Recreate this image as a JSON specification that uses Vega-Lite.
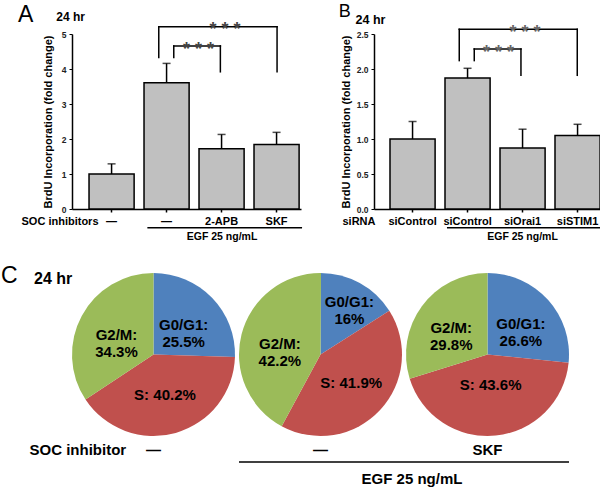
{
  "$schema": "https://vega.github.io/schema/vega-lite/v6.json",
  "padding": {"left": 0, "top": 2, "right": 0, "bottom": 0},
  "config": {
    "font": "Liberation Sans",
    "view": {"stroke": null},
    "axis": {"grid": false, "domainColor": "#000", "domainWidth": 1.5, "tickColor": "#000", "labelColor": "#000", "titleColor": "#000", "labelFontWeight": "bold", "titleFontWeight": "bold", "labelFont": "Liberation Sans", "titleFont": "Liberation Sans", "labelOverlap": false},
    "text": {"font": "Liberation Sans", "color": "#000"}
  },
  "spacing": 21,
  "vconcat": [
    {
      "hconcat": [
        {
          "width": 229, "height": 175,
          "data": {"values": [
            {"group": "None", "mean": 1.00, "upper": 1.29},
            {"group": "EGF", "mean": 3.61, "upper": 4.16},
            {"group": "EGF+2-APB", "mean": 1.72, "upper": 2.13},
            {"group": "EGF+SKF", "mean": 1.84, "upper": 2.19}
          ]},
          "layer": [
            {"mark": {"type": "bar", "fill": "#c0c0c0", "stroke": "#000", "strokeWidth": 1.5},
             "encoding": {
               "x": {"field": "group", "type": "nominal",
                     "scale": {"domain": ["None", "EGF", "EGF+2-APB", "EGF+SKF"], "paddingInner": 0.18, "paddingOuter": 0.172, "align": 0.9},
                     "axis": {"orient": "bottom", "title": "SOC inhibitors", "labelExpr": "indexof(datum.value,'+')>=0 ? substring(datum.value,4) : '—'", "labelAngle": 0, "labelOverlap": false, "tickSize": 3, "tickWidth": 1.5, "labelPadding": 3, "labelFontSize": 11, "titleFontSize": 11, "titleX": -51, "titleY": 12, "titleAlign": "left", "titleBaseline": "middle"}},
               "y": {"field": "mean", "type": "quantitative", "scale": {"domain": [0, 5], "nice": false},
                     "axis": {"title": "BrdU Incorporation (fold change)", "values": [0, 1, 2, 3, 4, 5], "tickCount": 6, "labelOverlap": false, "tickSize": 3, "labelFontSize": 8.5, "labelPadding": 3, "labelColor": "#222", "titleFontSize": 11, "titleX": -24, "titleY": 87.5, "titleAngle": -90, "titleAlign": "center", "titleBaseline": "middle"}}
             }},
            {"mark": {"type": "rule", "strokeWidth": 1.5, "color": "#000"},
             "encoding": {"x": {"field": "group", "type": "nominal"}, "y": {"field": "mean", "type": "quantitative", "scale": {"domain": [0, 5], "nice": false}, "axis": {"title": "BrdU Incorporation (fold change)", "values": [0, 1, 2, 3, 4, 5], "tickCount": 6, "labelOverlap": false, "tickSize": 3, "labelFontSize": 8.5, "labelPadding": 3, "labelColor": "#222", "titleFontSize": 11, "titleX": -24, "titleY": 87.5, "titleAngle": -90, "titleAlign": "center", "titleBaseline": "middle"}}, "y2": {"field": "upper"}}},
            {"mark": {"type": "tick", "size": 8, "thickness": 1.5, "color": "#000"},
             "encoding": {"x": {"field": "group", "type": "nominal"}, "y": {"field": "upper", "type": "quantitative", "scale": {"domain": [0, 5], "nice": false}, "axis": {"title": "BrdU Incorporation (fold change)", "values": [0, 1, 2, 3, 4, 5], "tickCount": 6, "labelOverlap": false, "tickSize": 3, "labelFontSize": 8.5, "labelPadding": 3, "labelColor": "#222", "titleFontSize": 11, "titleX": -24, "titleY": 87.5, "titleAngle": -90, "titleAlign": "center", "titleBaseline": "middle"}}}},
            {"data": {"values": [{}]}, "mark": {"type": "rule", "strokeWidth": 1.5, "color": "#000", "strokeCap": "square", "xOffset": -7.8},
             "encoding": {"x": {"datum": "EGF", "type": "nominal"}, "y": {"datum": 4.33, "type": "quantitative", "scale": {"domain": [0, 5], "nice": false}, "axis": {"title": "BrdU Incorporation (fold change)", "values": [0, 1, 2, 3, 4, 5], "tickCount": 6, "labelOverlap": false, "tickSize": 3, "labelFontSize": 8.5, "labelPadding": 3, "labelColor": "#222", "titleFontSize": 11, "titleX": -24, "titleY": 87.5, "titleAngle": -90, "titleAlign": "center", "titleBaseline": "middle"}}, "y2": {"datum": 5.21}}},
            {"data": {"values": [{}]}, "mark": {"type": "rule", "strokeWidth": 1.5, "color": "#000", "strokeCap": "square", "xOffset": -7.8, "x2Offset": 0.5},
             "encoding": {"x": {"datum": "EGF", "type": "nominal"}, "x2": {"datum": "EGF+SKF"}, "y": {"datum": 5.21, "type": "quantitative", "scale": {"domain": [0, 5], "nice": false}, "axis": {"title": "BrdU Incorporation (fold change)", "values": [0, 1, 2, 3, 4, 5], "tickCount": 6, "labelOverlap": false, "tickSize": 3, "labelFontSize": 8.5, "labelPadding": 3, "labelColor": "#222", "titleFontSize": 11, "titleX": -24, "titleY": 87.5, "titleAngle": -90, "titleAlign": "center", "titleBaseline": "middle"}}}},
            {"data": {"values": [{}]}, "mark": {"type": "rule", "strokeWidth": 1.5, "color": "#000", "strokeCap": "square", "xOffset": 0.5},
             "encoding": {"x": {"datum": "EGF+SKF", "type": "nominal"}, "y": {"datum": 3.92, "type": "quantitative", "scale": {"domain": [0, 5], "nice": false}, "axis": {"title": "BrdU Incorporation (fold change)", "values": [0, 1, 2, 3, 4, 5], "tickCount": 6, "labelOverlap": false, "tickSize": 3, "labelFontSize": 8.5, "labelPadding": 3, "labelColor": "#222", "titleFontSize": 11, "titleX": -24, "titleY": 87.5, "titleAngle": -90, "titleAlign": "center", "titleBaseline": "middle"}}, "y2": {"datum": 5.21}}},
            {"data": {"values": [{}]}, "mark": {"type": "rule", "strokeWidth": 1.5, "color": "#000", "strokeCap": "square", "xOffset": 7.2},
             "encoding": {"x": {"datum": "EGF", "type": "nominal"}, "y": {"datum": 4.33, "type": "quantitative", "scale": {"domain": [0, 5], "nice": false}, "axis": {"title": "BrdU Incorporation (fold change)", "values": [0, 1, 2, 3, 4, 5], "tickCount": 6, "labelOverlap": false, "tickSize": 3, "labelFontSize": 8.5, "labelPadding": 3, "labelColor": "#222", "titleFontSize": 11, "titleX": -24, "titleY": 87.5, "titleAngle": -90, "titleAlign": "center", "titleBaseline": "middle"}}, "y2": {"datum": 4.66}}},
            {"data": {"values": [{}]}, "mark": {"type": "rule", "strokeWidth": 1.5, "color": "#000", "strokeCap": "square", "xOffset": 7.2, "x2Offset": -1.2},
             "encoding": {"x": {"datum": "EGF", "type": "nominal"}, "x2": {"datum": "EGF+2-APB"}, "y": {"datum": 4.66, "type": "quantitative", "scale": {"domain": [0, 5], "nice": false}, "axis": {"title": "BrdU Incorporation (fold change)", "values": [0, 1, 2, 3, 4, 5], "tickCount": 6, "labelOverlap": false, "tickSize": 3, "labelFontSize": 8.5, "labelPadding": 3, "labelColor": "#222", "titleFontSize": 11, "titleX": -24, "titleY": 87.5, "titleAngle": -90, "titleAlign": "center", "titleBaseline": "middle"}}}},
            {"data": {"values": [{}]}, "mark": {"type": "rule", "strokeWidth": 1.5, "color": "#000", "strokeCap": "square", "xOffset": -1.2},
             "encoding": {"x": {"datum": "EGF+2-APB", "type": "nominal"}, "y": {"datum": 3.92, "type": "quantitative", "scale": {"domain": [0, 5], "nice": false}, "axis": {"title": "BrdU Incorporation (fold change)", "values": [0, 1, 2, 3, 4, 5], "tickCount": 6, "labelOverlap": false, "tickSize": 3, "labelFontSize": 8.5, "labelPadding": 3, "labelColor": "#222", "titleFontSize": 11, "titleX": -24, "titleY": 87.5, "titleAngle": -90, "titleAlign": "center", "titleBaseline": "middle"}}, "y2": {"datum": 4.66}}},
            {"data": {"values": [{}]}, "mark": {"type": "text", "text": "* * *", "fontSize": 18, "fontWeight": "bold", "color": "#444", "align": "center", "baseline": "alphabetic", "xOffset": 3.5},
             "encoding": {"x": {"datum": "EGF+2-APB", "type": "nominal"}, "y": {"datum": 4.96, "type": "quantitative", "scale": {"domain": [0, 5], "nice": false}, "axis": {"title": "BrdU Incorporation (fold change)", "values": [0, 1, 2, 3, 4, 5], "tickCount": 6, "labelOverlap": false, "tickSize": 3, "labelFontSize": 8.5, "labelPadding": 3, "labelColor": "#222", "titleFontSize": 11, "titleX": -24, "titleY": 87.5, "titleAngle": -90, "titleAlign": "center", "titleBaseline": "middle"}}}},
            {"data": {"values": [{}]}, "mark": {"type": "text", "text": "* * *", "fontSize": 18, "fontWeight": "bold", "color": "#444", "align": "center", "baseline": "alphabetic", "xOffset": 32},
             "encoding": {"x": {"datum": "EGF", "type": "nominal"}, "y": {"datum": 4.41, "type": "quantitative", "scale": {"domain": [0, 5], "nice": false}, "axis": {"title": "BrdU Incorporation (fold change)", "values": [0, 1, 2, 3, 4, 5], "tickCount": 6, "labelOverlap": false, "tickSize": 3, "labelFontSize": 8.5, "labelPadding": 3, "labelColor": "#222", "titleFontSize": 11, "titleX": -24, "titleY": 87.5, "titleAngle": -90, "titleAlign": "center", "titleBaseline": "middle"}}}},
            {"data": {"values": [{}]}, "mark": {"type": "rule", "strokeWidth": 1.5, "color": "#000", "xOffset": -19.2, "x2Offset": 25.5},
             "encoding": {"x": {"datum": "EGF", "type": "nominal"}, "x2": {"datum": "EGF+SKF"}, "y": {"datum": -0.534, "type": "quantitative", "scale": {"domain": [0, 5], "nice": false}, "axis": {"title": "BrdU Incorporation (fold change)", "values": [0, 1, 2, 3, 4, 5], "tickCount": 6, "labelOverlap": false, "tickSize": 3, "labelFontSize": 8.5, "labelPadding": 3, "labelColor": "#222", "titleFontSize": 11, "titleX": -24, "titleY": 87.5, "titleAngle": -90, "titleAlign": "center", "titleBaseline": "middle"}}}},
            {"data": {"values": [{}]}, "mark": {"type": "text", "text": "EGF 25 ng/mL", "fontSize": 10.5, "fontWeight": "bold", "align": "center", "baseline": "middle", "xOffset": 0.5},
             "encoding": {"x": {"datum": "EGF+2-APB", "type": "nominal"}, "y": {"datum": -0.81, "type": "quantitative", "scale": {"domain": [0, 5], "nice": false}, "axis": {"title": "BrdU Incorporation (fold change)", "values": [0, 1, 2, 3, 4, 5], "tickCount": 6, "labelOverlap": false, "tickSize": 3, "labelFontSize": 8.5, "labelPadding": 3, "labelColor": "#222", "titleFontSize": 11, "titleX": -24, "titleY": 87.5, "titleAngle": -90, "titleAlign": "center", "titleBaseline": "middle"}}}},
            {"data": {"values": [{}]}, "mark": {"type": "text", "text": "A", "fontSize": 23, "fontWeight": "normal", "align": "left", "baseline": "alphabetic", "xOffset": -93.5},
             "encoding": {"x": {"datum": "None", "type": "nominal"}, "y": {"datum": 5.351, "type": "quantitative", "scale": {"domain": [0, 5], "nice": false}, "axis": {"title": "BrdU Incorporation (fold change)", "values": [0, 1, 2, 3, 4, 5], "tickCount": 6, "labelOverlap": false, "tickSize": 3, "labelFontSize": 8.5, "labelPadding": 3, "labelColor": "#222", "titleFontSize": 11, "titleX": -24, "titleY": 87.5, "titleAngle": -90, "titleAlign": "center", "titleBaseline": "middle"}}}},
            {"data": {"values": [{}]}, "mark": {"type": "text", "text": "24 hr", "fontSize": 12, "fontWeight": "bold", "align": "center", "baseline": "middle", "xOffset": -41},
             "encoding": {"x": {"datum": "None", "type": "nominal"}, "y": {"datum": 5.486, "type": "quantitative", "scale": {"domain": [0, 5], "nice": false}, "axis": {"title": "BrdU Incorporation (fold change)", "values": [0, 1, 2, 3, 4, 5], "tickCount": 6, "labelOverlap": false, "tickSize": 3, "labelFontSize": 8.5, "labelPadding": 3, "labelColor": "#222", "titleFontSize": 11, "titleX": -24, "titleY": 87.5, "titleAngle": -90, "titleAlign": "center", "titleBaseline": "middle"}}}}
          ]
        },
        {
          "width": 227, "height": 175,
          "data": {"values": [
            {"group": "siControl", "mean": 1.00, "upper": 1.25},
            {"group": "EGF+siControl", "mean": 1.87, "upper": 2.01},
            {"group": "EGF+siOrai1", "mean": 0.87, "upper": 1.14},
            {"group": "EGF+siSTIM1", "mean": 1.05, "upper": 1.21}
          ]},
          "layer": [
            {"mark": {"type": "bar", "fill": "#c0c0c0", "stroke": "#000", "strokeWidth": 1.5},
             "encoding": {
               "x": {"field": "group", "type": "nominal",
                     "scale": {"domain": ["siControl", "EGF+siControl", "EGF+siOrai1", "EGF+siSTIM1"], "paddingInner": 0.18, "paddingOuter": 0.1536, "align": 0.947},
                     "axis": {"orient": "bottom", "title": "siRNA", "labelExpr": "replace(datum.value,'EGF+','')", "labelAngle": 0, "labelOverlap": false, "tickSize": 3, "tickWidth": 1.5, "labelPadding": 3, "labelFontSize": 11, "titleFontSize": 11, "titleX": -32, "titleY": 12, "titleAlign": "left", "titleBaseline": "middle"}},
               "y": {"field": "mean", "type": "quantitative", "scale": {"domain": [0, 2.5], "nice": false},
                     "axis": {"title": "BrdU Incorporation (fold change)", "values": [0, 0.5, 1, 1.5, 2, 2.5], "tickCount": 6, "format": ".1f", "labelOverlap": false, "tickSize": 3, "labelFontSize": 8.5, "labelPadding": 3, "labelColor": "#222", "titleFontSize": 11, "titleX": -27.5, "titleY": 87.5, "titleAngle": -90, "titleAlign": "center", "titleBaseline": "middle"}}
             }},
            {"mark": {"type": "rule", "strokeWidth": 1.5, "color": "#000"},
             "encoding": {"x": {"field": "group", "type": "nominal"}, "y": {"field": "mean", "type": "quantitative", "scale": {"domain": [0, 2.5], "nice": false}, "axis": {"title": "BrdU Incorporation (fold change)", "values": [0, 0.5, 1, 1.5, 2, 2.5], "tickCount": 6, "format": ".1f", "labelOverlap": false, "tickSize": 3, "labelFontSize": 8.5, "labelPadding": 3, "labelColor": "#222", "titleFontSize": 11, "titleX": -27.5, "titleY": 87.5, "titleAngle": -90, "titleAlign": "center", "titleBaseline": "middle"}}, "y2": {"field": "upper"}}},
            {"mark": {"type": "tick", "size": 8, "thickness": 1.5, "color": "#000"},
             "encoding": {"x": {"field": "group", "type": "nominal"}, "y": {"field": "upper", "type": "quantitative", "scale": {"domain": [0, 2.5], "nice": false}, "axis": {"title": "BrdU Incorporation (fold change)", "values": [0, 0.5, 1, 1.5, 2, 2.5], "tickCount": 6, "format": ".1f", "labelOverlap": false, "tickSize": 3, "labelFontSize": 8.5, "labelPadding": 3, "labelColor": "#222", "titleFontSize": 11, "titleX": -27.5, "titleY": 87.5, "titleAngle": -90, "titleAlign": "center", "titleBaseline": "middle"}}}},
            {"data": {"values": [{}]}, "mark": {"type": "rule", "strokeWidth": 1.5, "color": "#000", "strokeCap": "square", "xOffset": -8.3},
             "encoding": {"x": {"datum": "EGF+siControl", "type": "nominal"}, "y": {"datum": 2.12, "type": "quantitative", "scale": {"domain": [0, 2.5], "nice": false}, "axis": {"title": "BrdU Incorporation (fold change)", "values": [0, 0.5, 1, 1.5, 2, 2.5], "tickCount": 6, "format": ".1f", "labelOverlap": false, "tickSize": 3, "labelFontSize": 8.5, "labelPadding": 3, "labelColor": "#222", "titleFontSize": 11, "titleX": -27.5, "titleY": 87.5, "titleAngle": -90, "titleAlign": "center", "titleBaseline": "middle"}}, "y2": {"datum": 2.567}}},
            {"data": {"values": [{}]}, "mark": {"type": "rule", "strokeWidth": 1.5, "color": "#000", "strokeCap": "square", "xOffset": -8.3, "x2Offset": -0.3},
             "encoding": {"x": {"datum": "EGF+siControl", "type": "nominal"}, "x2": {"datum": "EGF+siSTIM1"}, "y": {"datum": 2.567, "type": "quantitative", "scale": {"domain": [0, 2.5], "nice": false}, "axis": {"title": "BrdU Incorporation (fold change)", "values": [0, 0.5, 1, 1.5, 2, 2.5], "tickCount": 6, "format": ".1f", "labelOverlap": false, "tickSize": 3, "labelFontSize": 8.5, "labelPadding": 3, "labelColor": "#222", "titleFontSize": 11, "titleX": -27.5, "titleY": 87.5, "titleAngle": -90, "titleAlign": "center", "titleBaseline": "middle"}}}},
            {"data": {"values": [{}]}, "mark": {"type": "rule", "strokeWidth": 1.5, "color": "#000", "strokeCap": "square", "xOffset": -0.3},
             "encoding": {"x": {"datum": "EGF+siSTIM1", "type": "nominal"}, "y": {"datum": 1.91, "type": "quantitative", "scale": {"domain": [0, 2.5], "nice": false}, "axis": {"title": "BrdU Incorporation (fold change)", "values": [0, 0.5, 1, 1.5, 2, 2.5], "tickCount": 6, "format": ".1f", "labelOverlap": false, "tickSize": 3, "labelFontSize": 8.5, "labelPadding": 3, "labelColor": "#222", "titleFontSize": 11, "titleX": -27.5, "titleY": 87.5, "titleAngle": -90, "titleAlign": "center", "titleBaseline": "middle"}}, "y2": {"datum": 2.567}}},
            {"data": {"values": [{}]}, "mark": {"type": "rule", "strokeWidth": 1.5, "color": "#000", "strokeCap": "square", "xOffset": 6.7},
             "encoding": {"x": {"datum": "EGF+siControl", "type": "nominal"}, "y": {"datum": 2.12, "type": "quantitative", "scale": {"domain": [0, 2.5], "nice": false}, "axis": {"title": "BrdU Incorporation (fold change)", "values": [0, 0.5, 1, 1.5, 2, 2.5], "tickCount": 6, "format": ".1f", "labelOverlap": false, "tickSize": 3, "labelFontSize": 8.5, "labelPadding": 3, "labelColor": "#222", "titleFontSize": 11, "titleX": -27.5, "titleY": 87.5, "titleAngle": -90, "titleAlign": "center", "titleBaseline": "middle"}}, "y2": {"datum": 2.286}}},
            {"data": {"values": [{}]}, "mark": {"type": "rule", "strokeWidth": 1.5, "color": "#000", "strokeCap": "square", "xOffset": 6.7, "x2Offset": -1.6},
             "encoding": {"x": {"datum": "EGF+siControl", "type": "nominal"}, "x2": {"datum": "EGF+siOrai1"}, "y": {"datum": 2.286, "type": "quantitative", "scale": {"domain": [0, 2.5], "nice": false}, "axis": {"title": "BrdU Incorporation (fold change)", "values": [0, 0.5, 1, 1.5, 2, 2.5], "tickCount": 6, "format": ".1f", "labelOverlap": false, "tickSize": 3, "labelFontSize": 8.5, "labelPadding": 3, "labelColor": "#222", "titleFontSize": 11, "titleX": -27.5, "titleY": 87.5, "titleAngle": -90, "titleAlign": "center", "titleBaseline": "middle"}}}},
            {"data": {"values": [{}]}, "mark": {"type": "rule", "strokeWidth": 1.5, "color": "#000", "strokeCap": "square", "xOffset": -1.6},
             "encoding": {"x": {"datum": "EGF+siOrai1", "type": "nominal"}, "y": {"datum": 1.91, "type": "quantitative", "scale": {"domain": [0, 2.5], "nice": false}, "axis": {"title": "BrdU Incorporation (fold change)", "values": [0, 0.5, 1, 1.5, 2, 2.5], "tickCount": 6, "format": ".1f", "labelOverlap": false, "tickSize": 3, "labelFontSize": 8.5, "labelPadding": 3, "labelColor": "#222", "titleFontSize": 11, "titleX": -27.5, "titleY": 87.5, "titleAngle": -90, "titleAlign": "center", "titleBaseline": "middle"}}, "y2": {"datum": 2.286}}},
            {"data": {"values": [{}]}, "mark": {"type": "text", "text": "* * *", "fontSize": 18, "fontWeight": "bold", "color": "#666", "align": "center", "baseline": "alphabetic", "xOffset": 2.4},
             "encoding": {"x": {"datum": "EGF+siOrai1", "type": "nominal"}, "y": {"datum": 2.44, "type": "quantitative", "scale": {"domain": [0, 2.5], "nice": false}, "axis": {"title": "BrdU Incorporation (fold change)", "values": [0, 0.5, 1, 1.5, 2, 2.5], "tickCount": 6, "format": ".1f", "labelOverlap": false, "tickSize": 3, "labelFontSize": 8.5, "labelPadding": 3, "labelColor": "#222", "titleFontSize": 11, "titleX": -27.5, "titleY": 87.5, "titleAngle": -90, "titleAlign": "center", "titleBaseline": "middle"}}}},
            {"data": {"values": [{}]}, "mark": {"type": "text", "text": "* * *", "fontSize": 18, "fontWeight": "bold", "color": "#666", "align": "center", "baseline": "alphabetic", "xOffset": 31},
             "encoding": {"x": {"datum": "EGF+siControl", "type": "nominal"}, "y": {"datum": 2.16, "type": "quantitative", "scale": {"domain": [0, 2.5], "nice": false}, "axis": {"title": "BrdU Incorporation (fold change)", "values": [0, 0.5, 1, 1.5, 2, 2.5], "tickCount": 6, "format": ".1f", "labelOverlap": false, "tickSize": 3, "labelFontSize": 8.5, "labelPadding": 3, "labelColor": "#222", "titleFontSize": 11, "titleX": -27.5, "titleY": 87.5, "titleAngle": -90, "titleAlign": "center", "titleBaseline": "middle"}}}},
            {"data": {"values": [{}]}, "mark": {"type": "rule", "strokeWidth": 1.5, "color": "#000", "xOffset": -20.6, "x2Offset": 24.4},
             "encoding": {"x": {"datum": "EGF+siControl", "type": "nominal"}, "x2": {"datum": "EGF+siSTIM1"}, "y": {"datum": -0.267, "type": "quantitative", "scale": {"domain": [0, 2.5], "nice": false}, "axis": {"title": "BrdU Incorporation (fold change)", "values": [0, 0.5, 1, 1.5, 2, 2.5], "tickCount": 6, "format": ".1f", "labelOverlap": false, "tickSize": 3, "labelFontSize": 8.5, "labelPadding": 3, "labelColor": "#222", "titleFontSize": 11, "titleX": -27.5, "titleY": 87.5, "titleAngle": -90, "titleAlign": "center", "titleBaseline": "middle"}}}},
            {"data": {"values": [{}]}, "mark": {"type": "text", "text": "EGF 25 ng/mL", "fontSize": 10.5, "fontWeight": "bold", "align": "center", "baseline": "middle"},
             "encoding": {"x": {"datum": "EGF+siOrai1", "type": "nominal"}, "y": {"datum": -0.404, "type": "quantitative", "scale": {"domain": [0, 2.5], "nice": false}, "axis": {"title": "BrdU Incorporation (fold change)", "values": [0, 0.5, 1, 1.5, 2, 2.5], "tickCount": 6, "format": ".1f", "labelOverlap": false, "tickSize": 3, "labelFontSize": 8.5, "labelPadding": 3, "labelColor": "#222", "titleFontSize": 11, "titleX": -27.5, "titleY": 87.5, "titleAngle": -90, "titleAlign": "center", "titleBaseline": "middle"}}}},
            {"data": {"values": [{}]}, "mark": {"type": "text", "text": "B", "fontSize": 18, "fontWeight": "normal", "align": "left", "baseline": "alphabetic", "xOffset": -73.9},
             "encoding": {"x": {"datum": "siControl", "type": "nominal"}, "y": {"datum": 2.75, "type": "quantitative", "scale": {"domain": [0, 2.5], "nice": false}, "axis": {"title": "BrdU Incorporation (fold change)", "values": [0, 0.5, 1, 1.5, 2, 2.5], "tickCount": 6, "format": ".1f", "labelOverlap": false, "tickSize": 3, "labelFontSize": 8.5, "labelPadding": 3, "labelColor": "#222", "titleFontSize": 11, "titleX": -27.5, "titleY": 87.5, "titleAngle": -90, "titleAlign": "center", "titleBaseline": "middle"}}}},
            {"data": {"values": [{}]}, "mark": {"type": "text", "text": "24 hr", "fontSize": 12.5, "fontWeight": "bold", "align": "center", "baseline": "middle", "xOffset": -42.1},
             "encoding": {"x": {"datum": "siControl", "type": "nominal"}, "y": {"datum": 2.7, "type": "quantitative", "scale": {"domain": [0, 2.5], "nice": false}, "axis": {"title": "BrdU Incorporation (fold change)", "values": [0, 0.5, 1, 1.5, 2, 2.5], "tickCount": 6, "format": ".1f", "labelOverlap": false, "tickSize": 3, "labelFontSize": 8.5, "labelPadding": 3, "labelColor": "#222", "titleFontSize": 11, "titleX": -27.5, "titleY": 87.5, "titleAngle": -90, "titleAlign": "center", "titleBaseline": "middle"}}}}
          ]
        }
      ],
      "spacing": 73,
      "bounds": "flush"
    },
    {
      "width": 497, "height": 163,
      "data": {"values": [
        {"pie": "Control", "phase": "G0/G1", "ord": 1, "pct": 25.5, "label": "G0/G1:\n25.5%"},
        {"pie": "Control", "phase": "S", "ord": 2, "pct": 40.2, "label": "S: 40.2%"},
        {"pie": "Control", "phase": "G2/M", "ord": 3, "pct": 34.3, "label": "G2/M:\n34.3%"},
        {"pie": "EGF", "phase": "G0/G1", "ord": 1, "pct": 16.0, "label": "G0/G1:\n16%"},
        {"pie": "EGF", "phase": "S", "ord": 2, "pct": 41.9, "label": "S: 41.9%"},
        {"pie": "EGF", "phase": "G2/M", "ord": 3, "pct": 42.2, "label": "G2/M:\n42.2%"},
        {"pie": "EGF+SKF", "phase": "G0/G1", "ord": 1, "pct": 26.6, "label": "G0/G1:\n26.6%"},
        {"pie": "EGF+SKF", "phase": "S", "ord": 2, "pct": 43.6, "label": "S: 43.6%"},
        {"pie": "EGF+SKF", "phase": "G2/M", "ord": 3, "pct": 29.8, "label": "G2/M:\n29.8%"}
      ]},
      "layer": [
        {"transform": [{"filter": "datum.pie === 'Control'"}],
         "mark": {"type": "arc"},
         "encoding": {
           "x": {"field": "pie", "type": "nominal",
                 "scale": {"domain": ["Control", "EGF", "EGF+SKF"], "paddingInner": 0.024, "paddingOuter": 0},
                 "axis": {"orient": "bottom", "title": "SOC inhibitor", "labelExpr": "datum.value === 'EGF+SKF' ? 'SKF' : '—'", "labelAngle": 0, "labelOverlap": false, "domain": false, "ticks": false, "labelPadding": 6, "labelFontSize": 15, "titleFontSize": 15, "titleX": -43, "titleY": 13, "titleAlign": "left", "titleBaseline": "middle"}},
           "theta": {"field": "pct", "type": "quantitative", "stack": true, "scale": {"domain": [0, 100]}},
           "color": {"field": "phase", "type": "nominal", "scale": {"domain": ["G0/G1", "S", "G2/M"], "range": ["#4f81bd", "#c0504d", "#9bbb59"]}, "legend": null},
           "order": {"field": "ord", "type": "quantitative"}
         }},
        {"transform": [{"filter": "datum.pie === 'Control'"}],
         "mark": {"type": "text", "radius": 42, "fontSize": 15, "fontWeight": "bold", "lineBreak": "\n", "align": "center", "baseline": "middle"},
         "encoding": {
           "x": {"field": "pie", "type": "nominal"},
           "theta": {"field": "pct", "type": "quantitative", "stack": true, "scale": {"domain": [0, 100]}},
           "order": {"field": "ord", "type": "quantitative"},
           "text": {"field": "label"}
         }},
        {"transform": [{"filter": "datum.pie === 'EGF'"}],
         "mark": {"type": "arc"},
         "encoding": {
           "x": {"field": "pie", "type": "nominal"},
           "theta": {"field": "pct", "type": "quantitative", "stack": true, "scale": {"domain": [0, 100]}},
           "color": {"field": "phase", "type": "nominal", "legend": null},
           "order": {"field": "ord", "type": "quantitative"}
         }},
        {"transform": [{"filter": "datum.pie === 'EGF'"}],
         "mark": {"type": "text", "radius": 60, "fontSize": 15, "fontWeight": "bold", "lineBreak": "\n", "align": "center", "baseline": "middle"},
         "encoding": {
           "x": {"field": "pie", "type": "nominal"},
           "theta": {"field": "pct", "type": "quantitative", "stack": true, "scale": {"domain": [0, 100]}},
           "order": {"field": "ord", "type": "quantitative"},
           "opacity": {"condition": {"test": "datum.phase === 'G0/G1'", "value": 1}, "value": 0},
           "text": {"field": "label"}
         }},
        {"transform": [{"filter": "datum.pie === 'EGF'"}],
         "mark": {"type": "text", "radius": 42, "fontSize": 15, "fontWeight": "bold", "lineBreak": "\n", "align": "center", "baseline": "middle"},
         "encoding": {
           "x": {"field": "pie", "type": "nominal"},
           "theta": {"field": "pct", "type": "quantitative", "stack": true, "scale": {"domain": [0, 100]}},
           "order": {"field": "ord", "type": "quantitative"},
           "opacity": {"condition": {"test": "datum.phase === 'G0/G1'", "value": 0}, "value": 1},
           "text": {"field": "label"}
         }},
        {"transform": [{"filter": "datum.pie === 'EGF+SKF'"}],
         "mark": {"type": "arc"},
         "encoding": {
           "x": {"field": "pie", "type": "nominal"},
           "theta": {"field": "pct", "type": "quantitative", "stack": true, "scale": {"domain": [0, 100]}},
           "color": {"field": "phase", "type": "nominal", "legend": null},
           "order": {"field": "ord", "type": "quantitative"}
         }},
        {"transform": [{"filter": "datum.pie === 'EGF+SKF'"}],
         "mark": {"type": "text", "radius": 31, "fontSize": 15, "fontWeight": "bold", "lineBreak": "\n", "align": "center", "baseline": "middle"},
         "encoding": {
           "x": {"field": "pie", "type": "nominal"},
           "theta": {"field": "pct", "type": "quantitative", "stack": true, "scale": {"domain": [0, 100]}},
           "order": {"field": "ord", "type": "quantitative"},
           "opacity": {"condition": {"test": "datum.phase === 'S'", "value": 1}, "value": 0},
           "text": {"field": "label"}
         }},
        {"transform": [{"filter": "datum.pie === 'EGF+SKF'"}],
         "mark": {"type": "text", "radius": 45, "fontSize": 15, "fontWeight": "bold", "lineBreak": "\n", "align": "center", "baseline": "middle"},
         "encoding": {
           "x": {"field": "pie", "type": "nominal"},
           "theta": {"field": "pct", "type": "quantitative", "stack": true, "scale": {"domain": [0, 100]}},
           "order": {"field": "ord", "type": "quantitative"},
           "opacity": {"condition": {"test": "datum.phase === 'S'", "value": 0}, "value": 1},
           "text": {"field": "label"}
         }},
        {"data": {"values": [{}]}, "mark": {"type": "rule", "strokeWidth": 1.5, "color": "#000", "xOffset": -81.5, "x2Offset": 81.5},
         "encoding": {"x": {"datum": "EGF", "type": "nominal"}, "x2": {"datum": "EGF+SKF"}, "y": {"datum": -0.16, "type": "quantitative", "scale": {"domain": [0, 1], "nice": false}, "axis": null}}},
        {"data": {"values": [{}]}, "mark": {"type": "text", "text": "EGF 25 ng/mL", "fontSize": 15, "fontWeight": "bold", "align": "center", "baseline": "middle", "xOffset": 91.5},
         "encoding": {"x": {"datum": "EGF", "type": "nominal"}, "y": {"datum": -0.264, "type": "quantitative", "scale": {"domain": [0, 1], "nice": false}, "axis": null}}},
        {"data": {"values": [{}]}, "mark": {"type": "text", "text": "C", "fontSize": 23, "fontWeight": "normal", "align": "left", "baseline": "alphabetic", "xOffset": -152.5},
         "encoding": {"x": {"datum": "Control", "type": "nominal"}, "y": {"datum": 0.9387, "type": "quantitative", "scale": {"domain": [0, 1], "nice": false}, "axis": null}}},
        {"data": {"values": [{}]}, "mark": {"type": "text", "text": "24 hr", "fontSize": 16, "fontWeight": "bold", "align": "left", "baseline": "middle", "xOffset": -119.5},
         "encoding": {"x": {"datum": "Control", "type": "nominal"}, "y": {"datum": 0.963, "type": "quantitative", "scale": {"domain": [0, 1], "nice": false}, "axis": null}}}
      ]
    }
  ]
}
